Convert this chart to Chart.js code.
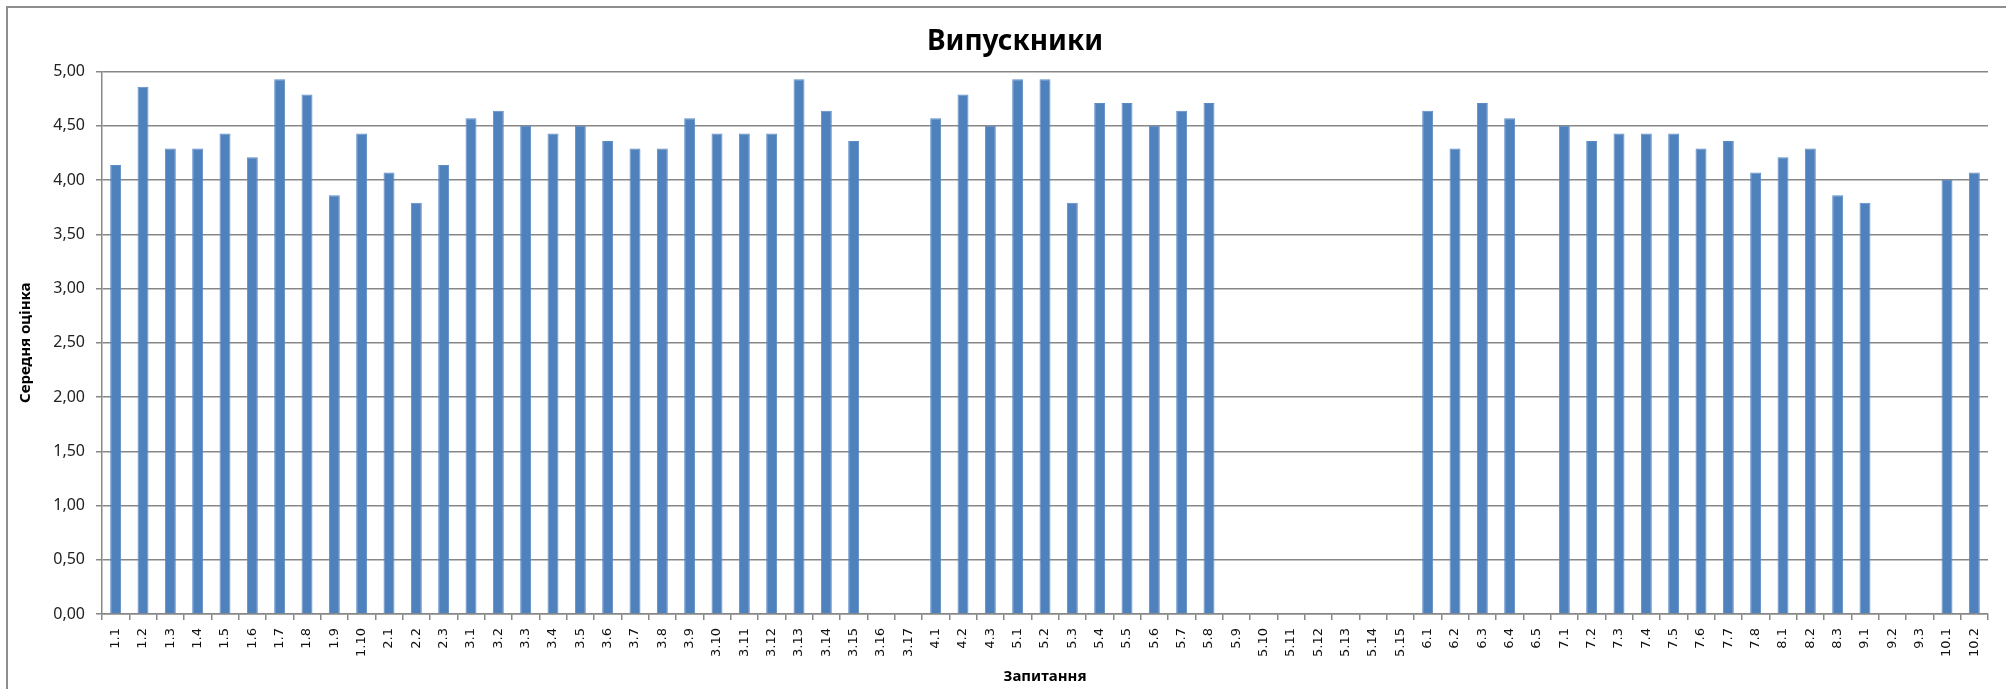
<!DOCTYPE html>
<html>
<head>
<meta charset="utf-8">
<script src="https://cdn.jsdelivr.net/npm/chart.js@4.4.1/dist/chart.umd.min.js"></script>
<style>
    html, body { margin: 0; padding: 0; background: #fff; overflow: hidden; }
    #wrap { position: relative; width: 2006px; height: 689px; overflow: hidden; }
    #frame { position: absolute; left: 6px; top: 6px; width: 2100px; height: 800px; border: 2px solid #8e8e8e; box-sizing: border-box; }
    #chart { position: absolute; left: 0; top: 0; }
</style>
</head>
<body>
<div id="wrap">
    <div id="frame"></div>
    <canvas id="chart" width="2030" height="689"></canvas>
</div>
<script>
const questions = [
    '1.1', '1.2', '1.3', '1.4', '1.5', '1.6', '1.7', '1.8', '1.9', '1.10',
    '2.1', '2.2', '2.3',
    '3.1', '3.2', '3.3', '3.4', '3.5', '3.6', '3.7', '3.8', '3.9', '3.10',
    '3.11', '3.12', '3.13', '3.14', '3.15', '3.16', '3.17',
    '4.1', '4.2', '4.3',
    '5.1', '5.2', '5.3', '5.4', '5.5', '5.6', '5.7', '5.8', '5.9', '5.10',
    '5.11', '5.12', '5.13', '5.14', '5.15',
    '6.1', '6.2', '6.3', '6.4', '6.5',
    '7.1', '7.2', '7.3', '7.4', '7.5', '7.6', '7.7', '7.8',
    '8.1', '8.2', '8.3',
    '9.1', '9.2', '9.3',
    '10.1', '10.2'
];

const averageScores = [
    4.14, 4.86, 4.29, 4.29, 4.43, 4.21, 4.93, 4.79, 3.86, 4.43,
    4.07, 3.79, 4.14,
    4.57, 4.64, 4.50, 4.43, 4.50, 4.36, 4.29, 4.29, 4.57, 4.43,
    4.43, 4.43, 4.93, 4.64, 4.36, null, null,
    4.57, 4.79, 4.50,
    4.93, 4.93, 3.79, 4.71, 4.71, 4.50, 4.64, 4.71, null, null,
    null, null, null, null, null,
    4.64, 4.29, 4.71, 4.57, null,
    4.50, 4.36, 4.43, 4.43, 4.43, 4.29, 4.36, 4.07,
    4.21, 4.29, 3.86,
    3.79, null, null,
    4.00, 4.07
];

const yTicks = { min: 0, max: 5, step: 0.5 };

const gridColor = '#878787';

new Chart(document.getElementById('chart'), {
    type: 'bar',
    data: {
        labels: questions,
        datasets: [{
            data: averageScores,
            backgroundColor: '#4f81bd',
            borderColor: '#5b8cc6',
            borderWidth: 1,
            barPercentage: 0.4,
            categoryPercentage: 1
        }]
    },
    options: {
        responsive: false,
        animation: false,
        layout: {
            padding: { left: 42, right: 42, top: 0, bottom: 0 }
        },
        plugins: {
            legend: { display: false },
            tooltip: { enabled: false },
            title: {
                display: true,
                text: 'Випускники',
                color: '#000',
                font: { family: 'Noto Sans', size: 28, weight: 'bold' },
                padding: { top: 25, bottom: 13 }
            }
        },
        scales: {
            x: {
                offset: true,
                grid: {
                    offset: true,
                    drawOnChartArea: false,
                    drawTicks: true,
                    tickLength: 6,
                    color: gridColor,
                    lineWidth: 1.5
                },
                border: { color: gridColor, width: 1.5 },
                ticks: {
                    autoSkip: false,
                    maxRotation: 90,
                    minRotation: 90,
                    padding: 8,
                    color: '#111',
                    font: { family: 'DejaVu Sans', size: 13 }
                },
                title: {
                    display: true,
                    text: 'Запитання',
                    color: '#000',
                    font: { family: 'Noto Sans', size: 15, weight: 'bold' },
                    padding: { top: 0, bottom: 3 }
                },
                afterFit: (scale) => { scale.height = 75; }
            },
            y: {
                min: yTicks.min,
                max: yTicks.max,
                grid: {
                    color: gridColor,
                    lineWidth: 1.5,
                    tickLength: 6
                },
                border: { color: gridColor, width: 1.5 },
                ticks: {
                    stepSize: yTicks.step,
                    padding: 11,
                    color: '#222',
                    font: { family: 'Noto Sans', size: 16 },
                    callback: (v) => v.toFixed(2).replace('.', ',')
                },
                title: {
                    display: true,
                    text: 'Середня оцінка',
                    color: '#000',
                    font: { family: 'Noto Sans', size: 15, weight: 'bold' },
                    padding: { top: -25, bottom: 0 }
                },
                afterFit: (scale) => { scale.width = 60; }
            }
        }
    }
});
</script>
</body>
</html>
